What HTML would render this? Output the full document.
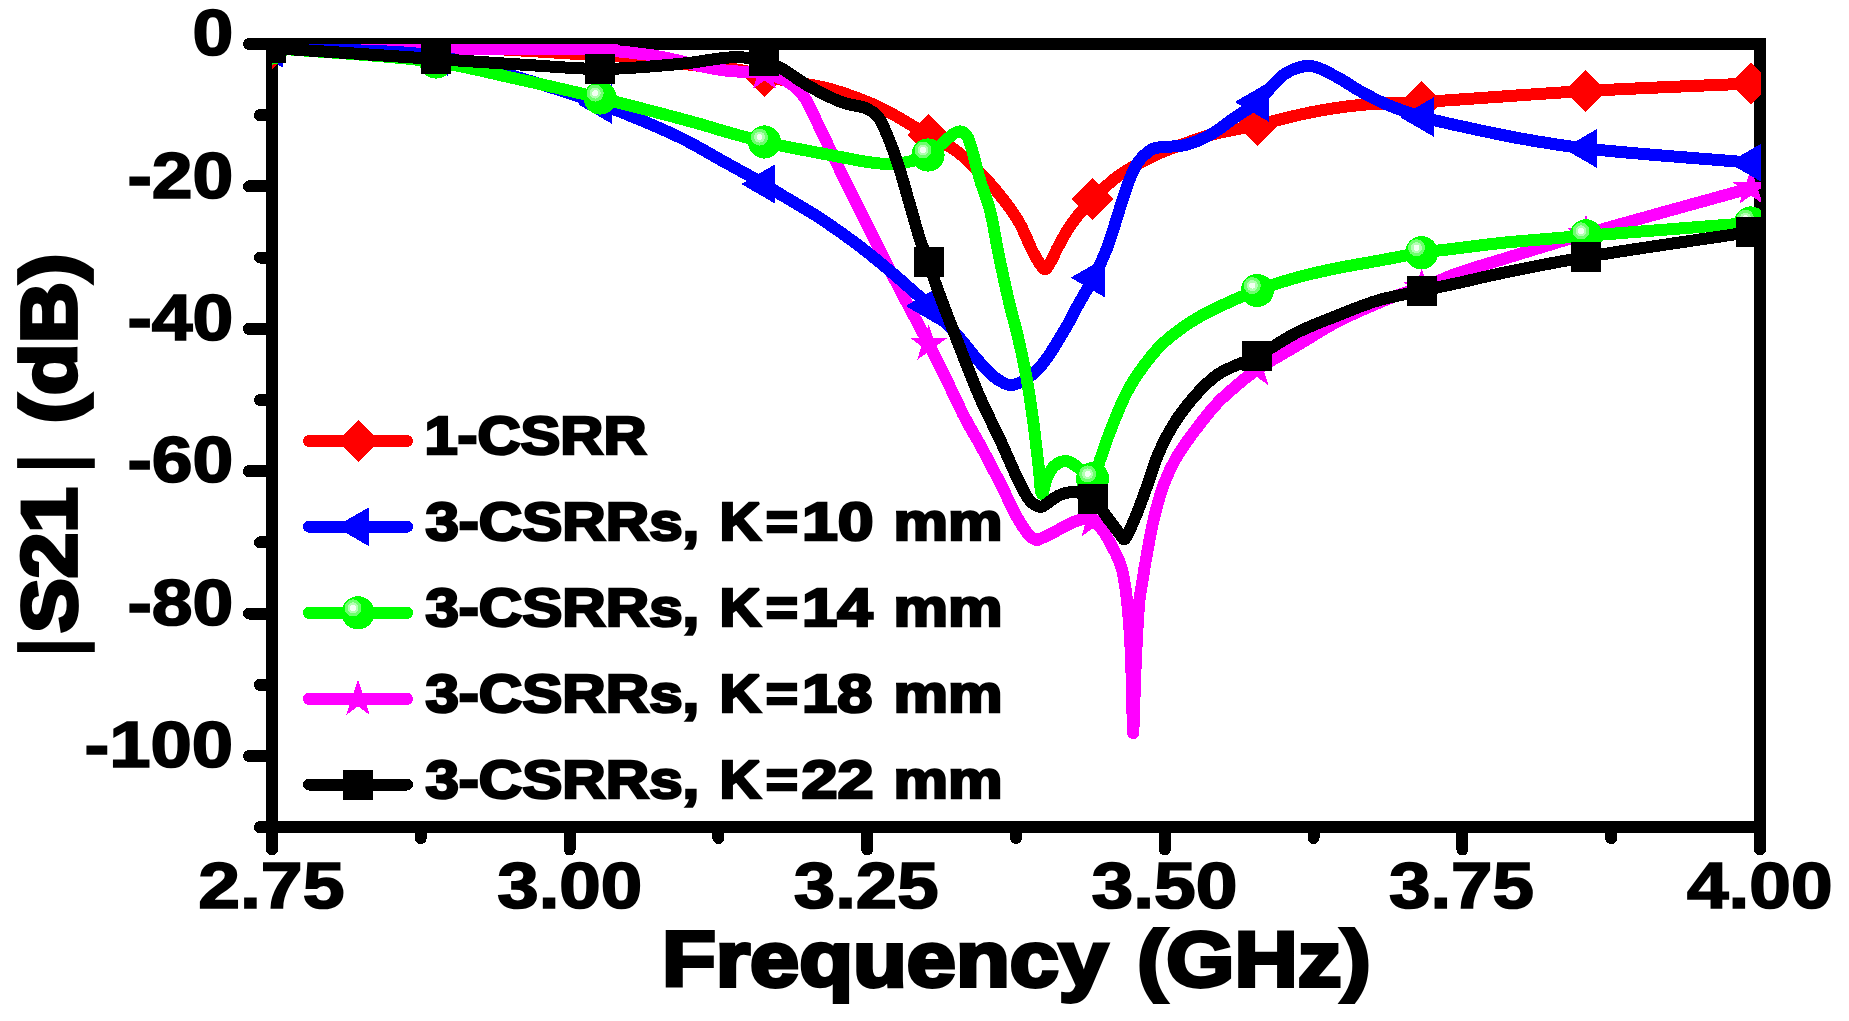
<!DOCTYPE html>
<html lang="en"><head><meta charset="utf-8"><title>Figure</title>
<style>
html,body{margin:0;padding:0;background:#fff;}
body{width:1849px;height:1021px;overflow:hidden;}
svg{display:block;}
text{font-family:"Liberation Sans",Arial,Helvetica,sans-serif;font-weight:bold;fill:#000;}
</style></head><body>
<svg width="1849" height="1021" viewBox="0 0 1849 1021" shape-rendering="crispEdges">
<defs>
<clipPath id="pc"><rect x="272.0" y="44.0" width="1489.0" height="783.0"/></clipPath>
</defs>
<rect width="1849" height="1021" fill="#fff"/>

<g stroke="#000" stroke-width="12" fill="none" stroke-linecap="round">
<rect x="272.0" y="44.0" width="1488.0" height="783.0" stroke-linejoin="miter"/>
<line x1="272.0" y1="44.0" x2="249.0" y2="44.0"/>
<line x1="272.0" y1="115.2" x2="260.0" y2="115.2"/>
<line x1="272.0" y1="186.4" x2="249.0" y2="186.4"/>
<line x1="272.0" y1="257.6" x2="260.0" y2="257.6"/>
<line x1="272.0" y1="328.8" x2="249.0" y2="328.8"/>
<line x1="272.0" y1="400.0" x2="260.0" y2="400.0"/>
<line x1="272.0" y1="471.2" x2="249.0" y2="471.2"/>
<line x1="272.0" y1="542.4" x2="260.0" y2="542.4"/>
<line x1="272.0" y1="613.6" x2="249.0" y2="613.6"/>
<line x1="272.0" y1="684.8" x2="260.0" y2="684.8"/>
<line x1="272.0" y1="756.0" x2="249.0" y2="756.0"/>
<line x1="272.0" y1="827.2" x2="260.0" y2="827.2"/>
<line x1="272.0" y1="827.0" x2="272.0" y2="849.5"/>
<line x1="420.8" y1="827.0" x2="420.8" y2="838.0"/>
<line x1="569.6" y1="827.0" x2="569.6" y2="849.5"/>
<line x1="718.4" y1="827.0" x2="718.4" y2="838.0"/>
<line x1="867.2" y1="827.0" x2="867.2" y2="849.5"/>
<line x1="1016.0" y1="827.0" x2="1016.0" y2="838.0"/>
<line x1="1164.8" y1="827.0" x2="1164.8" y2="849.5"/>
<line x1="1313.6" y1="827.0" x2="1313.6" y2="838.0"/>
<line x1="1462.4" y1="827.0" x2="1462.4" y2="849.5"/>
<line x1="1611.2" y1="827.0" x2="1611.2" y2="838.0"/>
<line x1="1760.0" y1="827.0" x2="1760.0" y2="849.5"/>
</g>
<g clip-path="url(#pc)" shape-rendering="crispEdges">
<path d="M272.0,48.0 C326.7,47.5 390.2,45.6 436.0,46.5 C469.0,47.1 495.5,49.1 521.0,50.5 C541.9,51.6 559.7,53.0 578.0,54.0 C594.9,55.0 609.1,54.9 627.0,56.5 C649.0,58.5 679.3,63.6 700.0,66.0 C715.3,67.8 728.4,68.0 740.0,70.0 C749.1,71.6 756.0,74.2 764.0,76.0 C772.0,77.8 778.9,79.2 788.0,81.0 C800.0,83.4 815.6,85.0 830.0,89.0 C846.1,93.5 863.8,99.9 880.0,107.5 C896.5,115.2 914.3,127.2 928.0,135.0 C938.3,140.8 946.5,143.9 955.0,150.0 C963.9,156.3 972.4,164.9 980.0,172.5 C987.0,179.6 992.8,186.2 999.0,194.0 C1005.8,202.5 1013.2,212.1 1018.8,221.7 C1024.3,231.1 1028.5,243.3 1032.5,251.0 C1035.2,256.3 1037.6,260.7 1040.0,264.0 C1041.7,266.3 1043.4,269.6 1045.0,269.5 C1046.7,269.4 1048.3,265.7 1050.0,263.0 C1052.5,258.9 1054.9,252.8 1058.0,247.0 C1061.9,239.9 1066.2,231.3 1071.7,223.6 C1077.7,215.2 1085.3,206.8 1092.8,199.0 C1100.4,191.2 1109.2,183.0 1117.0,177.0 C1123.5,172.1 1129.2,168.8 1136.0,165.0 C1143.4,160.8 1151.8,156.6 1160.0,153.0 C1168.2,149.4 1176.6,146.5 1185.0,143.5 C1193.3,140.5 1200.2,137.7 1210.0,135.0 C1223.2,131.4 1241.3,128.6 1257.5,125.0 C1274.6,121.2 1292.6,115.9 1310.0,112.5 C1326.8,109.2 1342.4,106.7 1360.0,105.0 C1379.5,103.1 1396.2,103.5 1421.8,102.0 C1463.3,99.6 1531.0,94.1 1585.8,91.0 C1640.6,87.9 1695.8,86.0 1750.8,83.5" fill="none" stroke="#ff0000" stroke-width="12" stroke-linejoin="round" stroke-linecap="round"/>
<path d="M251.0,48.0 L272.0,27.0 L293.0,48.0 L272.0,69.0Z" fill="#ff0000"/>
<path d="M415.0,47.0 L436.0,26.0 L457.0,47.0 L436.0,68.0Z" fill="#ff0000"/>
<path d="M579.0,55.0 L600.0,34.0 L621.0,55.0 L600.0,76.0Z" fill="#ff0000"/>
<path d="M743.0,76.0 L764.0,55.0 L785.0,76.0 L764.0,97.0Z" fill="#ff0000"/>
<path d="M907.0,135.0 L928.0,114.0 L949.0,135.0 L928.0,156.0Z" fill="#ff0000"/>
<path d="M1071.8,199.0 L1092.8,178.0 L1113.8,199.0 L1092.8,220.0Z" fill="#ff0000"/>
<path d="M1236.5,125.0 L1257.5,104.0 L1278.5,125.0 L1257.5,146.0Z" fill="#ff0000"/>
<path d="M1400.8,102.0 L1421.8,81.0 L1442.8,102.0 L1421.8,123.0Z" fill="#ff0000"/>
<path d="M1564.8,91.0 L1585.8,70.0 L1606.8,91.0 L1585.8,112.0Z" fill="#ff0000"/>
<path d="M1729.8,83.5 L1750.8,62.5 L1771.8,83.5 L1750.8,104.5Z" fill="#ff0000"/>
<path d="M272.0,48.0 C326.7,48.2 390.4,48.3 436.0,48.5 C468.6,48.6 492.3,48.7 520.0,49.0 C547.0,49.2 576.5,48.7 600.0,50.0 C618.6,51.0 636.1,53.0 650.0,55.0 C660.1,56.5 667.5,58.1 676.0,60.0 C684.2,61.8 691.6,64.2 700.0,66.0 C709.2,67.9 718.8,69.8 729.0,71.0 C740.1,72.3 753.6,70.8 764.0,73.0 C772.9,74.9 782.1,78.7 788.0,82.0 C791.9,84.2 794.2,86.3 797.0,89.0 C800.0,91.9 802.7,94.8 805.5,99.0 C809.4,104.9 813.2,114.2 817.0,122.0 C821.0,130.1 824.5,137.6 829.0,147.0 C834.7,159.0 841.9,174.2 848.6,188.0 C855.5,202.1 862.4,215.5 870.0,230.5 C878.5,247.3 887.5,265.7 897.0,284.0 C907.1,303.5 919.7,326.5 928.7,344.0 C935.6,357.5 940.7,367.8 946.7,380.0 C952.8,392.5 959.0,406.5 965.0,418.0 C970.1,427.7 974.7,434.9 980.0,444.6 C986.2,455.9 993.1,469.3 999.6,481.9 C1006.2,494.7 1013.3,511.2 1019.2,521.0 C1023.1,527.4 1026.8,532.9 1030.0,536.0 C1031.8,537.8 1033.7,538.9 1035.0,539.5 C1035.8,539.9 1036.3,540.0 1037.0,540.0 C1037.8,539.9 1038.4,539.5 1039.5,539.0 C1041.8,538.0 1046.4,536.3 1050.0,534.5 C1054.0,532.5 1058.3,529.7 1062.5,527.5 C1066.6,525.4 1071.0,522.9 1075.0,521.5 C1078.5,520.3 1081.9,519.1 1085.0,519.0 C1087.8,518.9 1090.3,519.2 1092.8,520.5 C1095.9,522.1 1098.6,525.3 1101.5,528.9 C1105.4,533.9 1109.9,542.1 1113.2,548.5 C1116.3,554.4 1119.0,559.9 1121.0,566.0 C1123.0,572.1 1123.8,577.7 1125.0,585.0 C1126.6,594.9 1127.8,608.1 1128.8,620.0 C1129.8,632.4 1130.4,643.2 1131.0,658.0 C1131.9,678.8 1132.3,708.0 1133.0,733.0" fill="none" stroke="#ff00ff" stroke-width="12" stroke-linejoin="round" stroke-linecap="round"/>
<path d="M1133.3,733.0 C1134.2,708.0 1134.9,681.5 1136.0,658.0 C1137.0,637.1 1138.0,613.2 1139.6,599.0 C1140.5,590.9 1141.5,586.7 1142.6,580.0 C1143.8,572.5 1144.9,565.2 1146.5,556.3 C1148.6,544.8 1151.2,529.5 1154.3,517.0 C1157.1,505.4 1160.2,494.0 1164.0,483.8 C1167.5,474.6 1170.8,467.2 1175.9,458.4 C1182.0,447.9 1191.2,435.4 1198.8,425.5 C1205.4,416.9 1211.6,409.0 1218.4,402.0 C1224.7,395.5 1231.4,389.9 1238.0,384.4 C1244.3,379.1 1249.3,374.8 1257.0,369.5 C1267.9,362.0 1284.5,353.1 1298.0,345.0 C1311.3,337.1 1324.0,328.5 1337.5,321.5 C1350.8,314.6 1367.2,307.8 1378.4,303.0 C1386.1,299.7 1391.1,297.4 1398.0,295.0 C1405.5,292.4 1413.1,291.0 1421.7,288.0 C1432.3,284.2 1444.3,278.0 1456.7,273.5 C1470.3,268.6 1483.1,265.2 1500.0,260.0 C1523.8,252.7 1552.6,243.7 1586.0,234.0 C1632.1,220.6 1696.0,203.3 1751.0,188.0" fill="none" stroke="#ff00ff" stroke-width="12" stroke-linejoin="round" stroke-linecap="round"/>
<polygon points="272.0,28.3 276.4,41.9 290.7,41.9 279.2,50.3 283.6,63.9 272.0,55.5 260.4,63.9 264.8,50.3 253.3,41.9 267.6,41.9" fill="#ff00ff"/>
<polygon points="436.0,28.8 440.4,42.4 454.7,42.4 443.2,50.8 447.6,64.4 436.0,56.0 424.4,64.4 428.8,50.8 417.3,42.4 431.6,42.4" fill="#ff00ff"/>
<polygon points="600.0,30.3 604.4,43.9 618.7,43.9 607.2,52.3 611.6,65.9 600.0,57.5 588.4,65.9 592.8,52.3 581.3,43.9 595.6,43.9" fill="#ff00ff"/>
<polygon points="764.5,53.3 768.9,66.9 783.2,66.9 771.7,75.3 776.1,88.9 764.5,80.5 752.9,88.9 757.3,75.3 745.8,66.9 760.1,66.9" fill="#ff00ff"/>
<polygon points="928.7,324.3 933.1,337.9 947.4,337.9 935.9,346.3 940.3,359.9 928.7,351.5 917.1,359.9 921.5,346.3 910.0,337.9 924.3,337.9" fill="#ff00ff"/>
<polygon points="1092.8,501.1 1097.2,514.7 1111.5,514.7 1100.0,523.1 1104.4,536.7 1092.8,528.3 1081.2,536.7 1085.6,523.1 1074.1,514.7 1088.4,514.7" fill="#ff00ff"/>
<polygon points="1257.0,349.8 1261.4,363.4 1275.7,363.4 1264.2,371.8 1268.6,385.4 1257.0,377.0 1245.4,385.4 1249.8,371.8 1238.3,363.4 1252.6,363.4" fill="#ff00ff"/>
<polygon points="1421.7,268.3 1426.1,281.9 1440.4,281.9 1428.9,290.3 1433.3,303.9 1421.7,295.5 1410.1,303.9 1414.5,290.3 1403.0,281.9 1417.3,281.9" fill="#ff00ff"/>
<polygon points="1586.0,214.3 1590.4,227.9 1604.7,227.9 1593.2,236.3 1597.6,249.9 1586.0,241.5 1574.4,249.9 1578.8,236.3 1567.3,227.9 1581.6,227.9" fill="#ff00ff"/>
<polygon points="1751.0,168.3 1755.4,181.9 1769.7,181.9 1758.2,190.3 1762.6,203.9 1751.0,195.5 1739.4,203.9 1743.8,190.3 1732.3,181.9 1746.6,181.9" fill="#ff00ff"/>
<path d="M272.0,48.0 C326.7,50.7 390.7,49.0 436.0,56.0 C468.9,61.1 492.5,69.9 520.0,78.0 C547.1,85.9 573.5,94.2 600.0,104.0 C626.9,114.0 657.8,126.8 680.0,137.5 C696.5,145.5 708.0,152.9 722.0,160.6 C736.0,168.4 753.4,177.7 764.0,184.0 C770.7,187.9 773.5,190.0 780.0,194.0 C790.1,200.2 806.1,209.1 819.0,217.5 C832.3,226.2 846.2,236.1 858.4,245.3 C869.5,253.7 879.4,262.0 889.4,270.4 C898.9,278.4 909.8,288.1 917.0,294.5 C921.7,298.7 924.0,300.6 928.5,305.0 C935.6,311.9 946.5,323.0 955.0,332.5 C963.6,342.1 972.3,354.2 980.0,362.5 C986.0,369.0 991.4,375.1 997.0,379.0 C1001.4,382.0 1005.5,384.7 1010.0,385.0 C1014.8,385.3 1020.1,382.9 1025.0,380.0 C1031.0,376.5 1036.6,371.0 1042.5,364.0 C1050.7,354.2 1061.2,335.8 1067.5,325.0 C1071.8,317.6 1073.7,312.9 1077.5,306.0 C1082.2,297.5 1088.5,287.4 1093.5,277.7 C1098.6,267.8 1103.5,257.4 1107.5,247.0 C1111.4,236.9 1114.5,225.4 1117.4,216.3 C1119.7,209.0 1121.5,203.2 1123.7,196.7 C1125.9,190.2 1128.2,182.7 1130.5,177.1 C1132.3,172.7 1134.0,168.9 1136.0,165.5 C1137.8,162.5 1139.4,160.0 1141.9,157.5 C1144.8,154.5 1149.3,150.6 1152.7,149.0 C1155.2,147.8 1156.8,147.8 1160.0,147.3 C1165.8,146.4 1176.8,147.0 1185.0,145.0 C1193.5,143.0 1201.9,139.4 1210.0,135.0 C1218.6,130.3 1226.9,123.1 1235.0,117.5 C1242.7,112.2 1249.9,108.4 1257.5,102.0 C1266.6,94.3 1275.2,79.7 1285.0,73.8 C1292.9,68.9 1301.7,65.7 1310.0,66.0 C1318.4,66.3 1326.8,71.9 1335.0,76.0 C1343.5,80.2 1351.6,86.3 1360.0,91.0 C1368.3,95.6 1375.7,99.7 1385.0,103.8 C1396.1,108.5 1409.9,113.3 1422.5,117.0 C1434.9,120.7 1445.9,122.9 1460.0,126.0 C1478.1,130.0 1501.1,135.0 1522.0,138.8 C1543.1,142.5 1559.6,145.4 1586.0,148.5 C1628.2,153.5 1696.0,158.0 1751.0,162.7" fill="none" stroke="#0000ff" stroke-width="12" stroke-linejoin="round" stroke-linecap="round"/>
<path d="M249.2,48.0 L283.4,28.2 L283.4,67.8Z" fill="#0000ff"/>
<path d="M413.7,56.0 L447.9,36.2 L447.9,75.8Z" fill="#0000ff"/>
<path d="M577.7,104.0 L611.9,84.2 L611.9,123.8Z" fill="#0000ff"/>
<path d="M741.2,184.0 L775.4,164.2 L775.4,203.8Z" fill="#0000ff"/>
<path d="M905.7,306.0 L939.9,286.2 L939.9,325.8Z" fill="#0000ff"/>
<path d="M1070.7,277.7 L1104.9,257.9 L1104.9,297.4Z" fill="#0000ff"/>
<path d="M1234.7,102.0 L1268.9,82.2 L1268.9,121.8Z" fill="#0000ff"/>
<path d="M1399.7,117.0 L1433.9,97.2 L1433.9,136.8Z" fill="#0000ff"/>
<path d="M1563.2,148.5 L1597.4,128.8 L1597.4,168.2Z" fill="#0000ff"/>
<path d="M1728.2,162.7 L1762.4,142.9 L1762.4,182.4Z" fill="#0000ff"/>
<path d="M272.0,48.0 C326.7,52.7 391.7,55.5 436.0,62.0 C466.6,66.5 486.6,72.2 513.0,78.0 C541.1,84.2 570.0,90.7 600.0,98.0 C632.2,105.9 678.7,118.1 700.0,124.0 C710.0,126.8 713.4,128.2 722.0,130.6 C733.8,134.0 748.7,138.3 764.5,142.0 C783.9,146.5 809.6,151.2 830.0,155.0 C847.8,158.3 866.2,162.6 880.0,163.5 C889.7,164.1 896.9,163.9 905.0,162.5 C912.9,161.1 921.2,158.7 928.0,155.0 C934.5,151.4 940.1,145.0 945.0,141.0 C948.8,137.9 951.9,134.5 955.0,133.0 C957.1,131.9 959.1,131.1 961.0,131.5 C963.1,131.9 965.4,133.8 967.0,136.0 C969.2,139.0 970.1,143.7 971.8,149.0 C974.2,156.8 976.7,168.8 979.6,178.6 C982.5,188.5 986.4,196.9 989.4,208.0 C993.2,222.2 995.8,240.7 999.2,257.0 C1002.6,273.4 1006.6,291.8 1010.0,306.0 C1012.6,317.0 1015.0,324.2 1017.5,335.0 C1020.6,348.3 1024.4,365.5 1027.0,380.0 C1029.4,393.4 1031.0,405.2 1032.9,419.0 C1035.0,434.4 1037.1,454.2 1038.8,468.0 C1040.0,478.0 1040.4,493.9 1042.0,494.0 C1043.3,494.1 1044.8,482.8 1047.0,478.0 C1049.0,473.6 1051.1,468.8 1054.4,466.0 C1057.6,463.3 1062.5,460.9 1066.2,461.0 C1069.6,461.1 1072.4,463.7 1076.0,466.0 C1080.9,469.1 1088.6,479.9 1092.6,478.8 C1096.5,477.7 1097.6,466.5 1100.0,460.0 C1102.5,453.2 1104.1,447.2 1107.3,438.8 C1112.1,426.2 1120.6,404.3 1127.0,392.0 C1131.4,383.4 1135.0,378.1 1140.0,371.0 C1145.7,363.0 1152.7,353.7 1159.6,346.6 C1165.8,340.2 1172.5,335.0 1179.2,330.0 C1185.6,325.2 1192.2,321.1 1198.8,317.2 C1205.2,313.4 1210.7,310.7 1218.4,307.0 C1229.1,301.9 1244.1,295.4 1257.3,290.4 C1270.6,285.4 1284.5,280.9 1298.0,277.2 C1311.2,273.6 1324.2,270.8 1337.5,268.1 C1351.0,265.3 1364.6,263.2 1378.4,260.7 C1392.6,258.1 1408.0,254.9 1421.7,252.8 C1434.0,250.9 1444.4,249.9 1456.7,248.4 C1470.4,246.7 1483.1,244.9 1500.0,243.1 C1523.8,240.6 1552.7,238.5 1586.0,235.8 C1632.0,232.1 1695.7,227.3 1750.5,223.0" fill="none" stroke="#00ff00" stroke-width="12" stroke-linejoin="round" stroke-linecap="round"/>
<circle cx="272.0" cy="48.0" r="16.6" fill="#00ff00"/><circle cx="267.0" cy="43.1" r="8.5" fill="#6eff6e"/><circle cx="267.0" cy="43.1" r="5.5" fill="#b2ffb2"/><circle cx="267.0" cy="43.1" r="3" fill="#f4fff4"/>
<circle cx="436.0" cy="62.0" r="16.6" fill="#00ff00"/><circle cx="431.0" cy="57.1" r="8.5" fill="#6eff6e"/><circle cx="431.0" cy="57.1" r="5.5" fill="#b2ffb2"/><circle cx="431.0" cy="57.1" r="3" fill="#f4fff4"/>
<circle cx="600.2" cy="98.0" r="16.6" fill="#00ff00"/><circle cx="595.2" cy="93.1" r="8.5" fill="#6eff6e"/><circle cx="595.2" cy="93.1" r="5.5" fill="#b2ffb2"/><circle cx="595.2" cy="93.1" r="3" fill="#f4fff4"/>
<circle cx="764.5" cy="142.0" r="16.6" fill="#00ff00"/><circle cx="759.5" cy="137.1" r="8.5" fill="#6eff6e"/><circle cx="759.5" cy="137.1" r="5.5" fill="#b2ffb2"/><circle cx="759.5" cy="137.1" r="3" fill="#f4fff4"/>
<circle cx="928.0" cy="155.0" r="16.6" fill="#00ff00"/><circle cx="923.0" cy="150.1" r="8.5" fill="#6eff6e"/><circle cx="923.0" cy="150.1" r="5.5" fill="#b2ffb2"/><circle cx="923.0" cy="150.1" r="3" fill="#f4fff4"/>
<circle cx="1092.6" cy="478.8" r="16.6" fill="#00ff00"/><circle cx="1087.6" cy="473.9" r="8.5" fill="#6eff6e"/><circle cx="1087.6" cy="473.9" r="5.5" fill="#b2ffb2"/><circle cx="1087.6" cy="473.9" r="3" fill="#f4fff4"/>
<circle cx="1257.3" cy="290.5" r="16.6" fill="#00ff00"/><circle cx="1252.3" cy="285.6" r="8.5" fill="#6eff6e"/><circle cx="1252.3" cy="285.6" r="5.5" fill="#b2ffb2"/><circle cx="1252.3" cy="285.6" r="3" fill="#f4fff4"/>
<circle cx="1421.5" cy="252.8" r="16.6" fill="#00ff00"/><circle cx="1416.5" cy="247.8" r="8.5" fill="#6eff6e"/><circle cx="1416.5" cy="247.8" r="5.5" fill="#b2ffb2"/><circle cx="1416.5" cy="247.8" r="3" fill="#f4fff4"/>
<circle cx="1586.0" cy="235.8" r="16.6" fill="#00ff00"/><circle cx="1581.0" cy="230.9" r="8.5" fill="#6eff6e"/><circle cx="1581.0" cy="230.9" r="5.5" fill="#b2ffb2"/><circle cx="1581.0" cy="230.9" r="3" fill="#f4fff4"/>
<circle cx="1750.5" cy="223.0" r="16.6" fill="#00ff00"/><circle cx="1745.5" cy="218.1" r="8.5" fill="#6eff6e"/><circle cx="1745.5" cy="218.1" r="5.5" fill="#b2ffb2"/><circle cx="1745.5" cy="218.1" r="3" fill="#f4fff4"/>
<path d="M272.0,48.0 C326.7,51.7 390.4,56.0 436.0,59.0 C468.6,61.2 492.3,62.8 520.0,64.5 C547.0,66.1 576.5,68.9 600.0,69.0 C618.6,69.1 634.3,67.6 650.0,66.5 C664.1,65.5 676.8,64.3 690.0,62.8 C703.1,61.3 718.0,58.1 729.0,57.5 C737.1,57.1 743.7,57.3 750.0,58.0 C755.2,58.6 759.3,59.6 764.0,61.0 C769.0,62.5 773.4,64.1 779.0,67.0 C787.2,71.2 797.3,79.6 807.5,85.3 C818.4,91.5 831.6,98.5 842.5,102.5 C851.3,105.7 861.2,105.7 867.5,108.8 C872.0,111.0 875.1,113.6 878.0,117.0 C881.0,120.6 882.5,124.6 885.0,130.0 C888.8,138.3 893.6,150.9 897.5,162.5 C901.9,175.6 906.0,191.3 910.0,205.0 C913.8,217.9 917.4,232.1 921.0,242.5 C923.7,250.1 926.7,255.4 929.0,262.0 C931.3,268.6 932.2,273.8 935.0,282.0 C939.6,295.5 947.9,316.6 955.0,335.0 C962.8,355.0 971.9,379.0 980.0,397.6 C986.7,412.9 993.1,424.9 999.6,438.8 C1006.2,453.0 1013.6,470.8 1019.2,481.9 C1022.9,489.2 1025.6,495.4 1029.0,499.5 C1031.3,502.3 1033.6,504.3 1036.0,505.5 C1037.9,506.4 1039.8,507.2 1041.7,506.8 C1044.1,506.4 1046.4,503.7 1049.0,502.0 C1051.9,500.0 1055.1,497.2 1058.4,495.6 C1061.5,494.1 1064.7,493.1 1068.0,492.6 C1071.3,492.1 1074.4,491.8 1078.0,492.6 C1082.6,493.6 1088.4,495.7 1093.0,499.3 C1098.6,503.7 1103.8,513.0 1108.0,518.5 C1111.1,522.5 1113.5,525.7 1116.0,529.0 C1118.3,532.0 1121.1,535.6 1122.5,537.5 C1123.2,538.4 1123.4,539.5 1124.0,539.5 C1124.6,539.5 1125.3,538.5 1126.0,537.5 C1127.2,535.8 1128.5,532.6 1130.0,529.5 C1132.0,525.2 1134.3,519.9 1136.7,514.0 C1139.7,506.4 1143.2,496.9 1146.5,487.7 C1150.1,477.6 1153.6,465.5 1157.5,456.0 C1160.8,447.9 1164.3,440.9 1168.0,434.0 C1171.5,427.5 1174.7,422.1 1179.2,415.7 C1184.6,408.0 1192.0,398.8 1198.8,391.6 C1205.1,385.0 1210.3,379.4 1218.4,374.0 C1228.7,367.2 1244.1,362.8 1257.0,356.0 C1270.6,348.9 1284.2,338.9 1298.0,332.0 C1311.1,325.5 1324.2,320.8 1337.5,315.5 C1351.0,310.2 1364.4,304.4 1378.4,300.3 C1392.4,296.2 1407.9,293.9 1421.5,290.9 C1433.8,288.2 1444.4,286.0 1456.7,283.3 C1470.4,280.3 1483.1,277.0 1500.0,273.5 C1523.8,268.5 1552.7,262.7 1586.0,257.0 C1632.0,249.1 1695.7,240.3 1750.5,232.0" fill="none" stroke="#000000" stroke-width="12" stroke-linejoin="round" stroke-linecap="round"/>
<rect x="256.0" y="33.0" width="30" height="30" fill="#000000"/>
<rect x="421.0" y="44.0" width="30" height="30" fill="#000000"/>
<rect x="585.0" y="54.0" width="30" height="30" fill="#000000"/>
<rect x="749.0" y="46.0" width="30" height="30" fill="#000000"/>
<rect x="914.0" y="247.0" width="30" height="30" fill="#000000"/>
<rect x="1078.0" y="484.3" width="30" height="30" fill="#000000"/>
<rect x="1242.0" y="341.0" width="30" height="30" fill="#000000"/>
<rect x="1406.6" y="276.0" width="30" height="30" fill="#000000"/>
<rect x="1571.0" y="242.0" width="30" height="30" fill="#000000"/>
<rect x="1735.5" y="217.0" width="30" height="30" fill="#000000"/>
</g>
<line x1="309" y1="441" x2="407" y2="441" stroke="#ff0000" stroke-width="12" stroke-linecap="round"/>
<path d="M337.0,441.0 L358.0,420.0 L379.0,441.0 L358.0,462.0Z" fill="#ff0000"/>
<text y="454.3" font-size="53.9" stroke="#000" stroke-width="2.6" stroke-linejoin="miter" stroke-miterlimit="2.5"><tspan x="424.4" textLength="222.2" lengthAdjust="spacingAndGlyphs">1-CSRR</tspan></text>
<line x1="309" y1="526.7" x2="407" y2="526.7" stroke="#0000ff" stroke-width="12" stroke-linecap="round"/>
<path d="M335.2,526.7 L369.4,507.0 L369.4,546.5Z" fill="#0000ff"/>
<text y="540.0" font-size="53.9" stroke="#000" stroke-width="2.6" stroke-linejoin="miter" stroke-miterlimit="2.5"><tspan x="425.4" textLength="273.9" lengthAdjust="spacingAndGlyphs">3-CSRRs,</tspan> <tspan x="719.5" textLength="41.3" lengthAdjust="spacingAndGlyphs">K</tspan><tspan x="765.7" textLength="32.3" lengthAdjust="spacingAndGlyphs">=</tspan><tspan x="802.0" textLength="71.6" lengthAdjust="spacingAndGlyphs">10</tspan> <tspan x="893.5" textLength="109.0" lengthAdjust="spacingAndGlyphs">mm</tspan></text>
<line x1="309" y1="612.8" x2="407" y2="612.8" stroke="#00ff00" stroke-width="12" stroke-linecap="round"/>
<circle cx="358.0" cy="612.8" r="16.6" fill="#00ff00"/><circle cx="353.0" cy="607.9" r="8.5" fill="#6eff6e"/><circle cx="353.0" cy="607.9" r="5.5" fill="#b2ffb2"/><circle cx="353.0" cy="607.9" r="3" fill="#f4fff4"/>
<text y="626.1" font-size="53.9" stroke="#000" stroke-width="2.6" stroke-linejoin="miter" stroke-miterlimit="2.5"><tspan x="425.4" textLength="273.9" lengthAdjust="spacingAndGlyphs">3-CSRRs,</tspan> <tspan x="719.5" textLength="41.3" lengthAdjust="spacingAndGlyphs">K</tspan><tspan x="765.7" textLength="32.3" lengthAdjust="spacingAndGlyphs">=</tspan><tspan x="802.0" textLength="70.7" lengthAdjust="spacingAndGlyphs">14</tspan> <tspan x="893.5" textLength="109.0" lengthAdjust="spacingAndGlyphs">mm</tspan></text>
<line x1="309" y1="698.9" x2="407" y2="698.9" stroke="#ff00ff" stroke-width="12" stroke-linecap="round"/>
<polygon points="358.0,679.2 362.4,692.8 376.7,692.8 365.2,701.2 369.6,714.8 358.0,706.4 346.4,714.8 350.8,701.2 339.3,692.8 353.6,692.8" fill="#ff00ff"/>
<text y="712.2" font-size="53.9" stroke="#000" stroke-width="2.6" stroke-linejoin="miter" stroke-miterlimit="2.5"><tspan x="425.4" textLength="273.9" lengthAdjust="spacingAndGlyphs">3-CSRRs,</tspan> <tspan x="719.5" textLength="41.3" lengthAdjust="spacingAndGlyphs">K</tspan><tspan x="765.7" textLength="32.3" lengthAdjust="spacingAndGlyphs">=</tspan><tspan x="802.0" textLength="70.3" lengthAdjust="spacingAndGlyphs">18</tspan> <tspan x="893.5" textLength="109.0" lengthAdjust="spacingAndGlyphs">mm</tspan></text>
<line x1="309" y1="784.5" x2="407" y2="784.5" stroke="#000000" stroke-width="12" stroke-linecap="round"/>
<rect x="343.0" y="769.5" width="30" height="30" fill="#000000"/>
<text y="797.8" font-size="53.9" stroke="#000" stroke-width="2.6" stroke-linejoin="miter" stroke-miterlimit="2.5"><tspan x="425.4" textLength="273.9" lengthAdjust="spacingAndGlyphs">3-CSRRs,</tspan> <tspan x="719.5" textLength="41.3" lengthAdjust="spacingAndGlyphs">K</tspan><tspan x="765.7" textLength="32.3" lengthAdjust="spacingAndGlyphs">=</tspan><tspan x="801.4" textLength="72.2" lengthAdjust="spacingAndGlyphs">22</tspan> <tspan x="893.5" textLength="109.0" lengthAdjust="spacingAndGlyphs">mm</tspan></text>
<text y="55.0" font-size="64.3" stroke="#000" stroke-width="1.7" stroke-linejoin="miter" stroke-miterlimit="2.5"><tspan x="192.4" textLength="40.8" lengthAdjust="spacingAndGlyphs">0</tspan></text>
<text y="197.5" font-size="64.3" stroke="#000" stroke-width="1.7" stroke-linejoin="miter" stroke-miterlimit="2.5"><tspan x="127.4" textLength="105.9" lengthAdjust="spacingAndGlyphs">-20</tspan></text>
<text y="339.8" font-size="64.3" stroke="#000" stroke-width="1.7" stroke-linejoin="miter" stroke-miterlimit="2.5"><tspan x="127.4" textLength="105.9" lengthAdjust="spacingAndGlyphs">-40</tspan></text>
<text y="482.2" font-size="64.3" stroke="#000" stroke-width="1.7" stroke-linejoin="miter" stroke-miterlimit="2.5"><tspan x="127.4" textLength="105.9" lengthAdjust="spacingAndGlyphs">-60</tspan></text>
<text y="624.6" font-size="64.3" stroke="#000" stroke-width="1.7" stroke-linejoin="miter" stroke-miterlimit="2.5"><tspan x="127.4" textLength="105.9" lengthAdjust="spacingAndGlyphs">-80</tspan></text>
<text y="767.0" font-size="64.3" stroke="#000" stroke-width="1.7" stroke-linejoin="miter" stroke-miterlimit="2.5"><tspan x="84.4" textLength="148.7" lengthAdjust="spacingAndGlyphs">-100</tspan></text>
<text y="908.2" font-size="64.3" stroke="#000" stroke-width="1.7" stroke-linejoin="miter" stroke-miterlimit="2.5"><tspan x="198.2" textLength="146.3" lengthAdjust="spacingAndGlyphs">2.75</tspan></text>
<text y="908.2" font-size="64.3" stroke="#000" stroke-width="1.7" stroke-linejoin="miter" stroke-miterlimit="2.5"><tspan x="497.2" textLength="145.1" lengthAdjust="spacingAndGlyphs">3.00</tspan></text>
<text y="908.2" font-size="64.3" stroke="#000" stroke-width="1.7" stroke-linejoin="miter" stroke-miterlimit="2.5"><tspan x="793.8" textLength="144.7" lengthAdjust="spacingAndGlyphs">3.25</tspan></text>
<text y="908.2" font-size="64.3" stroke="#000" stroke-width="1.7" stroke-linejoin="miter" stroke-miterlimit="2.5"><tspan x="1091.5" textLength="145.9" lengthAdjust="spacingAndGlyphs">3.50</tspan></text>
<text y="908.2" font-size="64.3" stroke="#000" stroke-width="1.7" stroke-linejoin="miter" stroke-miterlimit="2.5"><tspan x="1389.0" textLength="144.9" lengthAdjust="spacingAndGlyphs">3.75</tspan></text>
<text y="908.2" font-size="64.3" stroke="#000" stroke-width="1.7" stroke-linejoin="miter" stroke-miterlimit="2.5"><tspan x="1686.9" textLength="145.6" lengthAdjust="spacingAndGlyphs">4.00</tspan></text>
<text y="985.8" font-size="77.3" stroke="#000" stroke-width="3.8" stroke-linejoin="miter" stroke-miterlimit="2.5"><tspan x="661.9" textLength="446.0" lengthAdjust="spacingAndGlyphs">Frequency</tspan> <tspan x="1137.2" textLength="233.4" lengthAdjust="spacingAndGlyphs">(GHz)</tspan></text>
<g transform="translate(78,651.8) rotate(-90)"><text y="-1.9" font-size="77.3" stroke="#000" stroke-width="3.8" stroke-linejoin="miter" stroke-miterlimit="2.5"><tspan x="-2.9" textLength="15.3" lengthAdjust="spacingAndGlyphs">|</tspan><tspan x="18.9" textLength="145.8" lengthAdjust="spacingAndGlyphs">S21</tspan><tspan x="181.0" textLength="15.1" lengthAdjust="spacingAndGlyphs">|</tspan> <tspan x="228.4" textLength="169.8" lengthAdjust="spacingAndGlyphs">(dB)</tspan></text></g>
</svg></body></html>
